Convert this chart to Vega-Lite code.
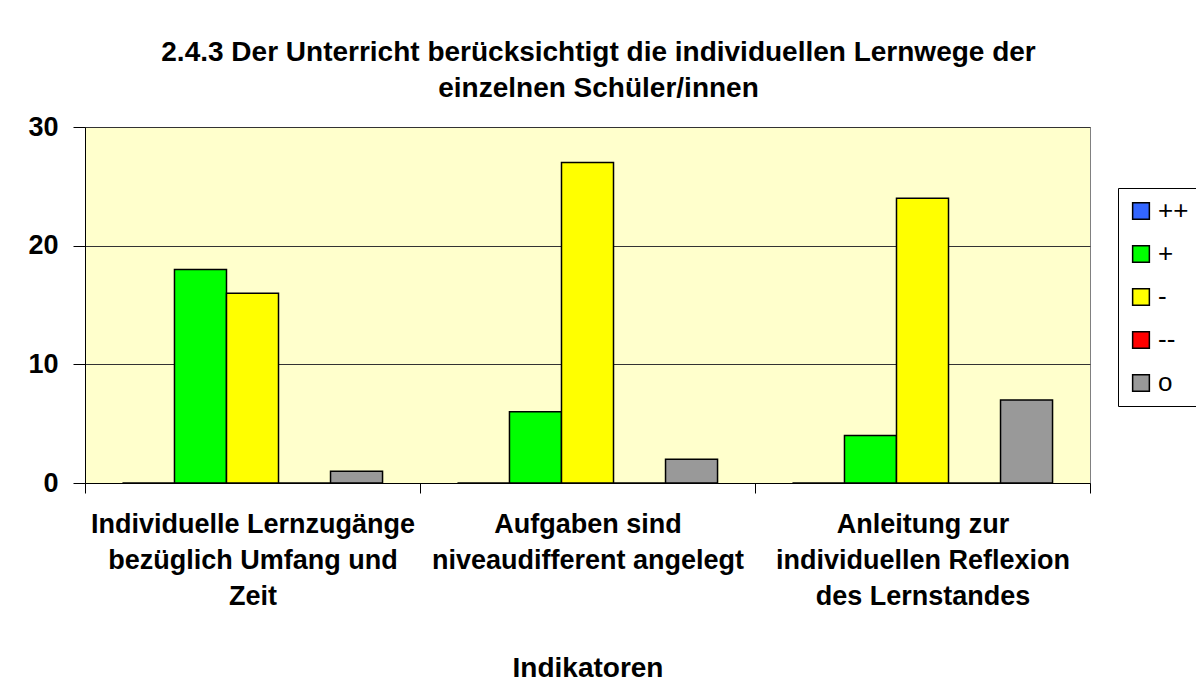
{
  "$schema": "https://vega.github.io/schema/vega-lite/v6.json",
  "autosize": {"type": "none"},
  "width": 1005,
  "height": 356,
  "padding": {"left": 85, "top": 127, "right": 106, "bottom": 202},
  "background": "white",
  "title": {
    "text": ["2.4.3 Der Unterricht berücksichtigt die individuellen Lernwege der", "einzelnen Schüler/innen"],
    "font": "Liberation Sans",
    "fontSize": 28,
    "fontWeight": "bold",
    "color": "black",
    "lineHeight": 36,
    "anchor": "middle",
    "frame": "group",
    "dx": 11,
    "offset": 10
  },
  "data": {
    "values": [
      {"indikator": "Individuelle Lernzugänge|bezüglich Umfang und|Zeit", "bewertung": "++", "anzahl": 0},
      {"indikator": "Individuelle Lernzugänge|bezüglich Umfang und|Zeit", "bewertung": "+", "anzahl": 18},
      {"indikator": "Individuelle Lernzugänge|bezüglich Umfang und|Zeit", "bewertung": "-", "anzahl": 16},
      {"indikator": "Individuelle Lernzugänge|bezüglich Umfang und|Zeit", "bewertung": "--", "anzahl": 0},
      {"indikator": "Individuelle Lernzugänge|bezüglich Umfang und|Zeit", "bewertung": "o", "anzahl": 1},
      {"indikator": "Aufgaben sind|niveaudifferent angelegt", "bewertung": "++", "anzahl": 0},
      {"indikator": "Aufgaben sind|niveaudifferent angelegt", "bewertung": "+", "anzahl": 6},
      {"indikator": "Aufgaben sind|niveaudifferent angelegt", "bewertung": "-", "anzahl": 27},
      {"indikator": "Aufgaben sind|niveaudifferent angelegt", "bewertung": "--", "anzahl": 0},
      {"indikator": "Aufgaben sind|niveaudifferent angelegt", "bewertung": "o", "anzahl": 2},
      {"indikator": "Anleitung zur|individuellen Reflexion|des Lernstandes", "bewertung": "++", "anzahl": 0},
      {"indikator": "Anleitung zur|individuellen Reflexion|des Lernstandes", "bewertung": "+", "anzahl": 4},
      {"indikator": "Anleitung zur|individuellen Reflexion|des Lernstandes", "bewertung": "-", "anzahl": 24},
      {"indikator": "Anleitung zur|individuellen Reflexion|des Lernstandes", "bewertung": "--", "anzahl": 0},
      {"indikator": "Anleitung zur|individuellen Reflexion|des Lernstandes", "bewertung": "o", "anzahl": 7}
    ]
  },
  "mark": {"type": "bar", "stroke": "black", "strokeWidth": 1.5},
  "encoding": {
    "x": {
      "field": "indikator",
      "type": "nominal",
      "sort": null,
      "scale": {"paddingInner": 0, "paddingOuter": 0},
      "axis": {
        "title": "Indikatoren",
        "titleFont": "Liberation Sans",
        "titleFontSize": 28,
        "titleFontWeight": "bold",
        "titleColor": "black",
        "titlePadding": 45,
        "labelAngle": 0,
        "labelExpr": "split(datum.label, '|')",
        "labelFont": "Liberation Sans",
        "labelFontSize": 27,
        "labelFontWeight": "bold",
        "labelColor": "black",
        "labelLineHeight": 36,
        "labelLimit": 0,
        "labelPadding": 18,
        "labelBaseline": "top",
        "tickBand": "extent",
        "tickSize": 10,
        "tickColor": "black",
        "domainColor": "black",
        "domainWidth": 1,
        "grid": false
      }
    },
    "xOffset": {
      "field": "bewertung",
      "type": "nominal",
      "sort": ["++", "+", "-", "--", "o"],
      "scale": {"domain": ["++", "+", "-", "--", "o"], "paddingInner": 0, "paddingOuter": 0.72}
    },
    "y": {
      "field": "anzahl",
      "type": "quantitative",
      "scale": {"domain": [0, 30], "nice": false},
      "axis": {
        "title": null,
        "values": [0, 10, 20, 30],
        "labelFont": "Liberation Sans",
        "labelFontSize": 27,
        "labelFontWeight": "bold",
        "labelColor": "black",
        "labelPadding": 15,
        "tickSize": 12,
        "tickColor": "black",
        "domainColor": "black",
        "grid": true,
        "gridColor": "#333333",
        "gridWidth": 1
      }
    },
    "color": {
      "field": "bewertung",
      "type": "nominal",
      "scale": {"domain": ["++", "+", "-", "--", "o"], "range": ["#3366FF", "#00FF00", "#FFFF00", "#FF0000", "#999999"]},
      "legend": {
        "title": null,
        "orient": "none",
        "legendX": 1033,
        "legendY": 61,
        "fillColor": "white",
        "strokeColor": "black",
        "padding": 10,
        "symbolType": "square",
        "symbolSize": 280,
        "symbolStrokeColor": "black",
        "symbolStrokeWidth": 1.5,
        "labelFont": "Liberation Sans",
        "labelFontSize": 26,
        "labelColor": "black",
        "labelOffset": 4,
        "rowPadding": 17
      }
    }
  },
  "config": {
    "view": {"fill": "#FFFFCC", "stroke": "#808080", "strokeWidth": 1}
  }
}
